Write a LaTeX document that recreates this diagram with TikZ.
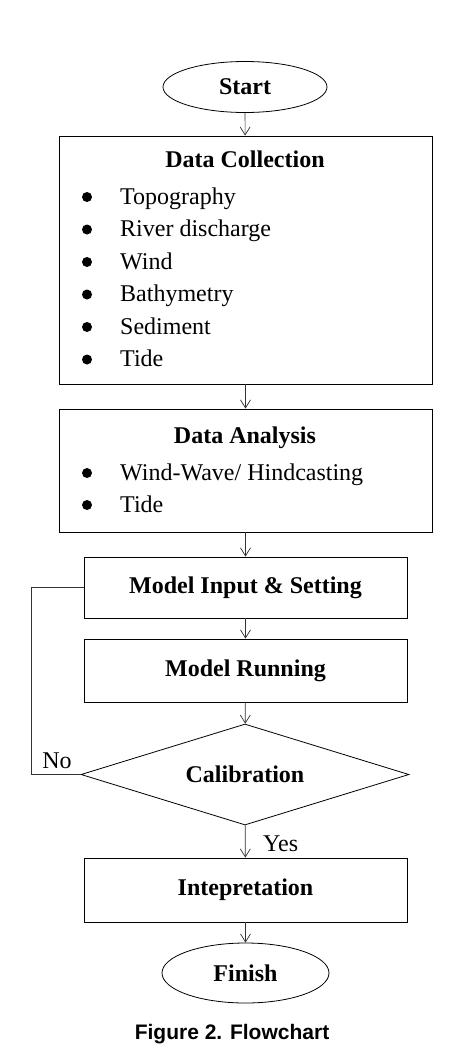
\documentclass[tikz,border=0pt]{standalone}
\usepackage{fontspec}
\setmainfont{Liberation Serif}
\newfontfamily\captionfont{Liberation Sans}
\usetikzlibrary{arrows.meta,shapes.geometric}

\newcommand\flowsize{\fontsize{24}{29}\selectfont}

\tikzset{
  box/.style={draw, line width=0.9pt, inner sep=0pt, font=\flowsize\bfseries},
  terminal/.style={draw, ellipse, line width=0.8pt, inner sep=0pt, font=\flowsize\bfseries},
  decision/.style={draw, diamond, shape aspect=3.25, line width=0.8pt, inner sep=0pt, font=\flowsize\bfseries},
  item/.style={anchor=base west, inner sep=0pt, font=\flowsize},
  heading/.style={anchor=base, inner sep=0pt, font=\flowsize\bfseries},
  flow/.style={-{Straight Barb[length=8pt,width=10pt]}, line width=0.7pt, draw=black!80},
  loopline/.style={line width=0.9pt, draw=black!80}
}

\begin{document}
\begin{tikzpicture}[x=1pt,y=-1pt]

\useasboundingbox (0,0) rectangle (454,1061);

% Start
\node[terminal, minimum width=164, minimum height=51] (start) at (245,87) {Start};

% Data collection box
\node[box, minimum width=373, minimum height=248] (dc) at (245.5,260) {};
\node[heading] (dctitle) at (245,167) {Data Collection};
\foreach \t [count=\i] in {Topography,River discharge,Wind,Bathymetry,Sediment,Tide}{
  \fill (87,164.5+32.5*\i) circle (5);
  \node[item] (dc\i) at (120,171.5+32.5*\i) {\t};
}

% Data analysis box
\node[box, minimum width=373, minimum height=123] (da) at (245.5,470.5) {};
\node[heading] (datitle) at (245,443) {Data Analysis};
\foreach \t [count=\i] in {Wind-Wave/ Hindcasting,Tide}{
  \fill (87,441+32*\i) circle (5);
  \node[item] (da\i) at (120,448+32*\i) {\t};
}

% Model steps
\node[box, minimum width=323, minimum height=61] (mi) at (245.5,587.5) {Model Input \& Setting};
\node[box, minimum width=323, minimum height=63] (mr) at (245.5,670.5) {Model Running};
\node[decision, minimum width=328, minimum height=101] (cal) at (245,774.5) {Calibration};
\node[box, minimum width=323, minimum height=64] (ip) at (245.5,890) {Intepretation};

% Finish
\node[terminal, minimum width=167, minimum height=60] (finish) at (245.5,973) {Finish};

% Connectors
\draw[flow] (start) -- (dc);
\draw[flow] (dc) -- (da);
\draw[flow] (da) -- (mi);
\draw[flow] (mi) -- (mr);
\draw[flow] (mr) -- (cal);
\draw[flow] (cal) -- (ip);
\draw[flow] (ip) -- (finish);

% Feedback loop
\coordinate (loopcorner) at (31.5,587.5);
\draw[loopline] (mi.west) -- (loopcorner) |- (cal.west);
\node[item, anchor=base] (no) at (57,768) {No};
\node[item] (yes) at (263,851) {Yes};

% Caption
\node[anchor=base, inner sep=0pt, font=\captionfont\bfseries\fontsize{21}{25}\selectfont] (caption) at (232,1039) {Figure 2. Flowchart};

\end{tikzpicture}
\end{document}
